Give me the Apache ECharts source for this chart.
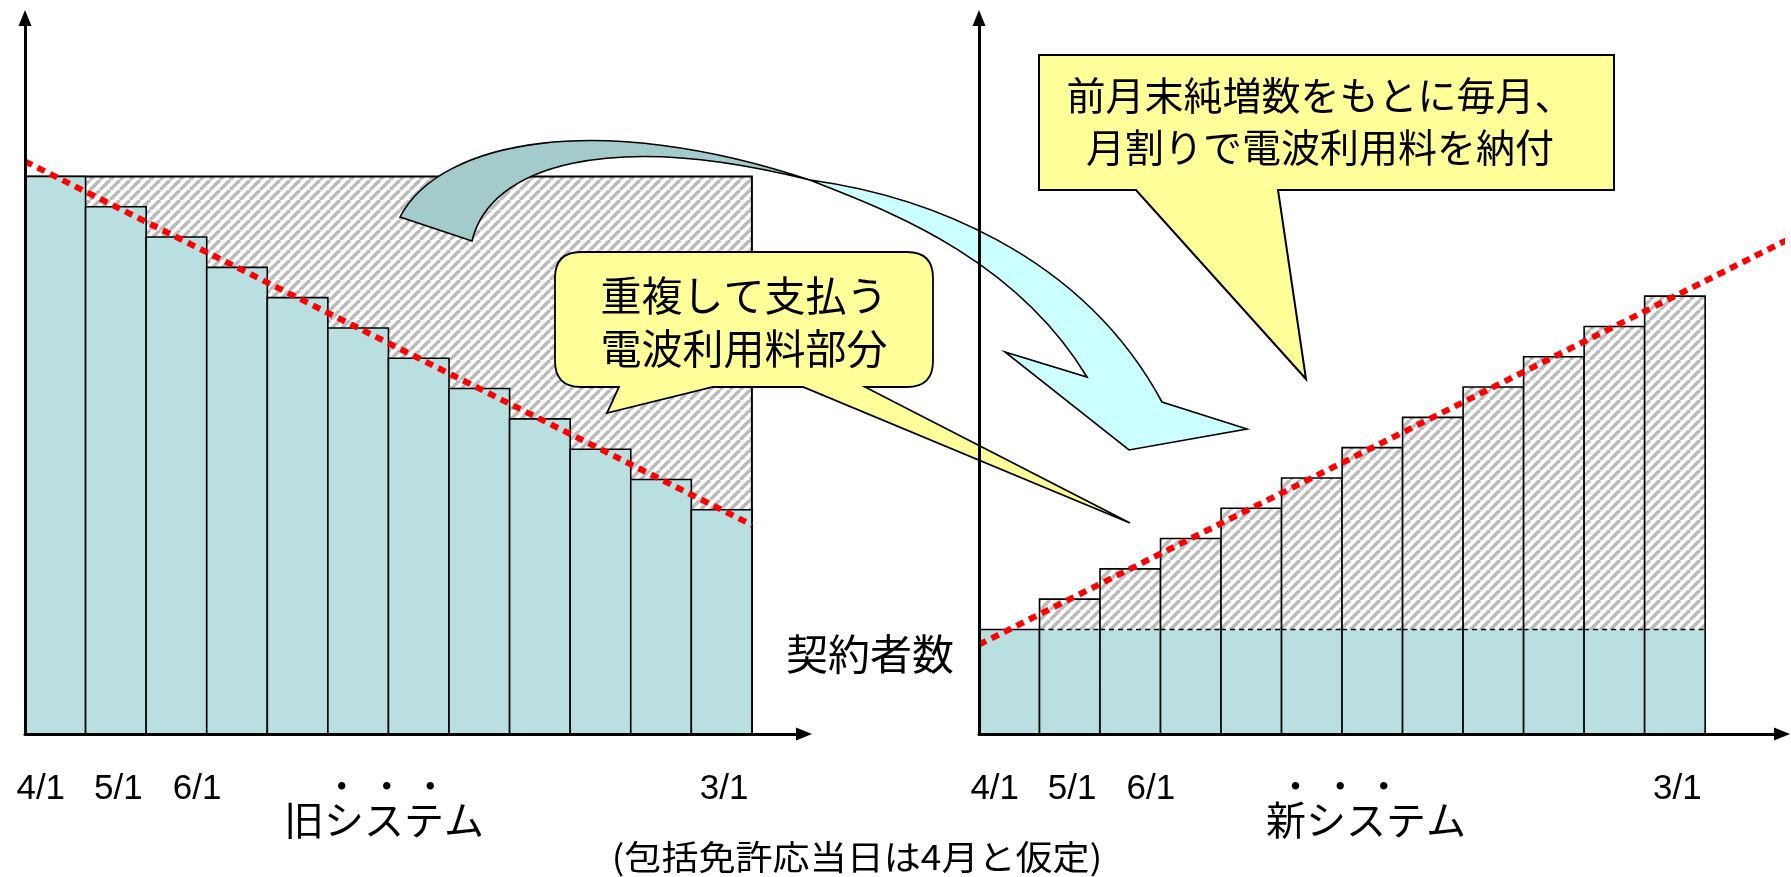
<!DOCTYPE html>
<html>
<head>
<meta charset="utf-8">
<script src="https://cdn.jsdelivr.net/npm/echarts@6/dist/echarts.min.js"></script>
<style>
  html, body { margin: 0; padding: 0; background: #ffffff; }
  #chart { width: 1791px; height: 877px; }
</style>
</head>
<body>
<div id="chart"></div>
<script>
// ---- data -------------------------------------------------------------
// Twelve monthly slots, April through March
const months = ['4月', '5月', '6月', '7月', '8月', '9月', '10月', '11月', '12月', '1月', '2月', '3月'];

// Old system: subscribers remaining at the start of each month
const oldSubscribers = [184, 174, 164, 154, 144, 134, 124, 114, 104, 94, 84, 74];
// Old system: the whole year is charged on the count at the renewal date
const oldAnnualBasis = 184;

// New system: subscribers carried over at the start of the year
const newCarried = [34.5, 34.5, 34.5, 34.5, 34.5, 34.5, 34.5, 34.5, 34.5, 34.5, 34.5, 34.5];
// New system: subscribers at the start of each month (carried + net additions)
const newSubscribers = [34.5, 44.5, 54.5, 64.5, 74.5, 84.5, 94.5, 104.5, 114.5, 124.5, 134.5, 144.5];

// Trend lines [month position, subscribers]
const oldTrend = [[-0.5, 189], [11.5, 69]];
const newTrend = [[-0.5, 29.5], [13, 164.5]];

// Date labels under each time axis
const tickLabels = ['4/1', '5/1', '6/1', '・', '・', '・', '3/1'];

// Texts
const panelTitles = ['旧システム', '新システム'];
const countTitle = '契約者数';
const noteText = '(包括免許応当日は4月と仮定)';
const overlapNote = ['重複して支払う', '電波利用料部分'];
const monthlyNote = ['前月末純増数をもとに毎月、', '月割りで電波利用料を納付'];

// ---- layout & style -----------------------------------------------------
const tickAnchors = [-0.24, 1.04, 2.34, 4.73, 5.47, 6.19, 11.04];
const TEAL = '#BADFE1';
const CJK = '"Noto Sans CJK JP", "Noto Sans CJK SC", sans-serif';
const LATIN = '"Liberation Sans", Arial, sans-serif';

function makeHatch() {
  const s = 10;
  const c = document.createElement('canvas');
  c.width = s; c.height = s;
  const g = c.getContext('2d');
  g.fillStyle = '#ffffff';
  g.fillRect(0, 0, s, s);
  g.strokeStyle = '#bababa';
  g.lineWidth = 3.4;
  g.beginPath();
  for (const o of [-s, 0, s]) { g.moveTo(o, s); g.lineTo(o + s, 0); }
  g.stroke();
  return c;
}
const hatch = { image: makeHatch(), repeat: 'repeat' };

function rectBetween(api, x0, y0, x1, y1) {
  const a = api.coord([x0, y0]);
  const b = api.coord([x1, y1]);
  return { x: Math.min(a[0], b[0]), y: Math.min(a[1], b[1]),
           width: Math.abs(b[0] - a[0]), height: Math.abs(b[1] - a[1]) };
}

function axisLine() {
  return {
    show: true,
    onZero: false,
    symbol: ['none', 'triangle'],
    symbolSize: [13, 16],
    lineStyle: { color: '#000', width: 3 }
  };
}

function timeAxis(gridIndex, max) {
  return {
    type: 'value', gridIndex, min: -0.5, max, z: 20,
    axisLine: axisLine(), axisTick: { show: false }, splitLine: { show: false },
    axisLabel: {
      customValues: tickAnchors,
      margin: 38,
      fontFamily: LATIN + ', ' + CJK,
      fontSize: 35,
      color: '#000',
      formatter: (v) => {
        let k = 0;
        tickAnchors.forEach((t, j) => { if (Math.abs(t - v) < Math.abs(tickAnchors[k] - v)) k = j; });
        return tickLabels[k];
      }
    }
  };
}
function countAxis(gridIndex) {
  return {
    type: 'value', gridIndex, min: 0, max: 236.3, z: 20,
    axisLine: axisLine(), axisTick: { show: false }, splitLine: { show: false },
    axisLabel: { show: false }
  };
}

const trendStyle = { color: '#ff0000', width: 6, type: [8, 6], cap: 'butt' };

// Callouts and the curved transfer arrow (page pixel outlines)
const decorations = [
  { d: 'M400,217 C440,140 600,110 810,180 C610,130 490,165 472,241 Z', fill: '#A3CBCB', lw: 1.6 },
  { d: 'M810,180 C920,195 1080,250 1162,402 L1247,429 L1129,450 L1005,352 L1087,377 C1010,250 870,205 810,180 Z', fill: '#CCFFFF', lw: 1.6 },
  { d: 'M581,252 H907 Q933,252 933,278 V361 Q933,387 907,387 H865 L1130,523 L803,387 H713 L607,413 L619,387 H581 Q555,387 555,361 V278 Q555,252 581,252 Z', fill: '#FFFF99', lw: 1.8 },
  { d: 'M1039,55 H1614 V190 H1278 L1306,379 L1136,190 H1039 Z', fill: '#FFFF99', lw: 2 }
];

const option = {
  animation: false,
  backgroundColor: '#ffffff',
  grid: [
    { left: 25, top: 18, width: 779, height: 716 },
    { left: 979, top: 18, width: 803, height: 716 }
  ],
  xAxis: [timeAxis(0, 12.36), timeAxis(1, 12.77)],
  yAxis: [countAxis(0), countAxis(1)],
  series: [
    {
      // whole-year charge of the old system
      type: 'custom', name: '旧システム負担', xAxisIndex: 0, yAxisIndex: 0, z: 1,
      data: [[0, months.length - 1, oldAnnualBasis]],
      encode: { x: [0, 1], y: 2 },
      renderItem: (params, api) => ({
        type: 'rect',
        shape: rectBetween(api, api.value(0) - 0.5, api.value(2), api.value(1) + 0.5, 0),
        style: { fill: hatch, stroke: '#000', lineWidth: 2 }
      })
    },
    {
      type: 'custom', name: '旧システム契約者数', xAxisIndex: 0, yAxisIndex: 0, z: 2,
      data: oldSubscribers.map((v, i) => [i, v]),
      encode: { x: 0, y: 1 },
      renderItem: (params, api) => ({
        type: 'rect',
        shape: rectBetween(api, api.value(0) - 0.5, api.value(1), api.value(0) + 0.5, 0),
        style: { fill: TEAL, stroke: '#000', lineWidth: 1.6 }
      })
    },
    {
      type: 'custom', name: '新システム契約者数', xAxisIndex: 1, yAxisIndex: 1, z: 2,
      data: newSubscribers.map((v, i) => [i, v, newCarried[i]]),
      encode: { x: 0, y: 1 },
      renderItem: (params, api) => {
        const i = api.value(0), top = api.value(1), base = api.value(2);
        const full = rectBetween(api, i - 0.5, top, i + 0.5, 0);
        const carried = rectBetween(api, i - 0.5, base, i + 0.5, 0);
        const children = [
          { type: 'rect', shape: full, style: { fill: hatch } },
          { type: 'rect', shape: carried, style: { fill: TEAL } },
          { type: 'rect', shape: full, style: { fill: 'none', stroke: '#000', lineWidth: 1.6 } }
        ];
        if (top > base) {
          children.push({
            type: 'line',
            shape: { x1: carried.x, y1: carried.y, x2: carried.x + carried.width, y2: carried.y },
            style: { stroke: '#000', lineWidth: 1.5, lineDash: [5, 4] }
          });
        }
        return { type: 'group', children };
      }
    },
    {
      type: 'line', name: '旧傾向', xAxisIndex: 0, yAxisIndex: 0, z: 3,
      data: oldTrend, symbol: 'none', clip: false, lineStyle: trendStyle
    },
    {
      type: 'line', name: '新傾向', xAxisIndex: 1, yAxisIndex: 1, z: 3,
      data: newTrend, symbol: 'none', clip: false, lineStyle: trendStyle
    },
    {
      type: 'custom', name: '注記', coordinateSystem: 'none', z: 10, silent: true,
      data: [[0]],
      renderItem: () => ({
        type: 'group',
        children: decorations.map((s) => ({
          type: 'path',
          shape: { pathData: s.d },
          style: { fill: s.fill, stroke: '#000', lineWidth: s.lw }
        }))
      })
    }
  ],
  graphic: {
    elements: [
      {
        type: 'text', z: 12,
        style: { text: overlapNote.join('\n'), x: 744, y: 322, align: 'center', verticalAlign: 'middle',
                 fontFamily: CJK, fontSize: 41, lineHeight: 53, fill: '#000' }
      },
      {
        type: 'text', z: 12,
        style: { text: monthlyNote.join('\n'), x: 1320, y: 121, align: 'center', verticalAlign: 'middle',
                 fontFamily: CJK, fontSize: 39, lineHeight: 52, fill: '#000' }
      },
      {
        type: 'text', z: 12,
        style: { text: countTitle, x: 954, y: 654, align: 'right', verticalAlign: 'middle',
                 fontFamily: CJK, fontSize: 42, fill: '#000' }
      },
      {
        type: 'text', z: 12,
        style: { text: panelTitles[0], x: 384, y: 820, align: 'center', verticalAlign: 'middle',
                 fontFamily: CJK, fontSize: 40, fill: '#000' }
      },
      {
        type: 'text', z: 12,
        style: { text: panelTitles[1], x: 1366, y: 820, align: 'center', verticalAlign: 'middle',
                 fontFamily: CJK, fontSize: 40, fill: '#000' }
      },
      {
        type: 'text', z: 12,
        x: 857, y: 857, scaleX: 1.09,
        style: { text: noteText, x: 0, y: 0, align: 'center', verticalAlign: 'middle',
                 fontFamily: CJK, fontSize: 34, fill: '#000' }
      }
    ]
  }
};

const chart = echarts.init(document.getElementById('chart'), null, { renderer: 'canvas' });
chart.setOption(option);
</script>
</body>
</html>
